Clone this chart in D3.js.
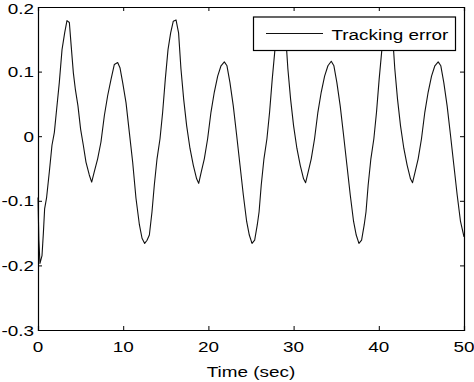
<!DOCTYPE html>
<html>
<head>
<meta charset="utf-8">
<script src="https://cdn.jsdelivr.net/npm/d3@7"></script>
<style>
  html, body { margin: 0; padding: 0; background: #fff; }
  svg { display: block; }
  text { font-family: "Liberation Sans", Arial, Helvetica, sans-serif; fill: #000; }
</style>
</head>
<body>
<svg id="chart" width="474" height="382"></svg>
<script>
// ---- Data ----
const timeSec = [
  0, 0.1, 0.23, 0.47, 0.63, 0.78, 1.0, 1.33, 1.64, 1.92, 2.19, 2.5, 2.82, 3.13, 3.4, 3.68,
  3.9, 4.15, 4.38, 4.69, 5.0, 5.32, 5.63, 6.02, 6.3, 6.61, 7.0, 7.39, 7.79, 8.18, 8.57,
  8.96, 9.35, 9.62, 9.94, 10.33, 10.72, 11.11, 11.5, 11.9, 12.21, 12.52, 12.8,
  13.07, 13.38, 13.65, 13.97, 14.32, 14.63, 14.94, 15.26, 15.57, 15.88, 16.2, 16.5, 16.78,
  17.1, 17.45, 17.84, 18.23, 18.62, 18.86, 19.17, 19.52, 19.91, 20.3, 20.69, 21.09, 21.48,
  21.87, 22.18, 22.53, 22.92, 23.32, 23.71, 24.1, 24.49, 24.8, 25.12, 25.43, 25.74,
  25.95, 26.2, 26.52, 26.87, 27.18, 27.49, 27.81, 28.12, 28.43, 28.75, 29.05, 29.33, 29.65,
  30.0, 30.39, 30.78, 31.17, 31.41, 31.72, 32.07, 32.46, 32.85, 33.24, 33.64, 34.03, 34.42,
  34.73, 35.08, 35.47, 35.87, 36.26, 36.65, 37.04, 37.35, 37.67, 37.98, 38.29,
  38.5, 38.75, 39.07, 39.42, 39.73, 40.04, 40.36, 40.67, 40.98, 41.3, 41.6, 41.88, 42.2,
  42.55, 42.94, 43.33, 43.72, 43.96, 44.27, 44.62, 45.01, 45.4, 45.79, 46.19, 46.58, 46.97,
  47.28, 47.63, 48.02, 48.42, 48.81, 49.2, 49.59, 49.9, 50.0
];
const trackingError = [
  -0.095, -0.16, -0.197, -0.185, -0.15, -0.112, -0.096, -0.055, -0.014, 0.006, 0.042, 0.083, 0.134, 0.16, 0.179, 0.176,
  0.139, 0.098, 0.073, 0.047, 0.011, -0.014, -0.04, -0.06, -0.071, -0.055, -0.035, -0.009, 0.032, 0.063, 0.088,
  0.111, 0.114, 0.106, 0.083, 0.052, 0.006, -0.04, -0.096, -0.137, -0.158, -0.166, -0.161,
  -0.153, -0.117, -0.076, -0.035, -0.004, 0.037, 0.088, 0.134, 0.16, 0.178, 0.18, 0.16, 0.104,
  0.057, 0.016, -0.019, -0.045, -0.066, -0.073, -0.055, -0.035, -0.004, 0.037, 0.068, 0.093, 0.109,
  0.115, 0.109, 0.083, 0.047, 0.001, -0.045, -0.091, -0.132, -0.153, -0.166, -0.161, -0.137,
  -0.117, -0.076, -0.035, -0.004, 0.037, 0.088, 0.134, 0.162, 0.18, 0.183, 0.16, 0.104, 0.057,
  0.016, -0.019, -0.045, -0.066, -0.072, -0.055, -0.035, -0.004, 0.037, 0.068, 0.093, 0.109, 0.116,
  0.109, 0.083, 0.047, 0.001, -0.045, -0.091, -0.132, -0.153, -0.166, -0.161, -0.137,
  -0.117, -0.076, -0.035, -0.004, 0.037, 0.088, 0.134, 0.16, 0.178, 0.181, 0.16, 0.104, 0.057,
  0.016, -0.019, -0.045, -0.066, -0.072, -0.055, -0.035, -0.004, 0.037, 0.068, 0.093, 0.109, 0.115,
  0.109, 0.083, 0.047, 0.001, -0.045, -0.091, -0.132, -0.150, -0.156
];
const xTicks = [0, 10, 20, 30, 40, 50];
const yTicks = [-0.3, -0.2, -0.1, 0, 0.1, 0.2];
const yTickLabels = ["-0.3", "-0.2", "-0.1", "0", "0.1", "0.2"];
const xLabel = "Time (sec)";
const seriesName = "Tracking error";

// ---- Layout ----
const L = 38, R = 464, T = 7, B = 330;
const FS = 15.5, SX = 1.22, TICK = 4;

const svg = d3.select("#chart");
const x = d3.scaleLinear().domain([0, 50]).range([L, R]);
const y = d3.scaleLinear().domain([-0.3, 0.2]).range([B, T]);

// helper for horizontally stretched text
function stretchedText(g, tx, ty, str, anchor) {
  return g.append("text")
    .attr("transform", `translate(${tx},${ty}) scale(${SX},1)`)
    .attr("text-anchor", anchor)
    .attr("font-size", FS)
    .text(str);
}

// ---- Curve ----
const pts = timeSec.map((t, i) => [t, trackingError[i]]);
svg.append("path")
  .datum(pts)
  .attr("fill", "none")
  .attr("stroke", "#111")
  .attr("stroke-width", 1.1)
  .attr("stroke-linejoin", "round")
  .attr("d", d3.line().x(d => x(d[0])).y(d => y(d[1])));

// ---- Axes (box with inward ticks on all sides) ----
const axG = svg.append("g");
const bottomAxis = d3.axisBottom(x).tickValues(xTicks).tickSize(-TICK).tickFormat("");
const topAxis = d3.axisTop(x).tickValues(xTicks).tickSize(-TICK).tickFormat("");
const leftAxis = d3.axisLeft(y).tickValues(yTicks).tickSize(-TICK).tickFormat("");
const rightAxis = d3.axisRight(y).tickValues(yTicks).tickSize(-TICK).tickFormat("");
axG.append("g").attr("transform", `translate(0,${B})`).call(bottomAxis);
axG.append("g").attr("transform", `translate(0,${T})`).call(topAxis);
axG.append("g").attr("transform", `translate(${L},0)`).call(leftAxis);
axG.append("g").attr("transform", `translate(${R},0)`).call(rightAxis);
axG.selectAll(".domain").attr("stroke", "#000").attr("stroke-width", 1.2);
axG.selectAll(".tick line").attr("stroke", "#000").attr("stroke-width", 1);

// tick labels
const lblG = svg.append("g");
xTicks.forEach(v => stretchedText(lblG, x(v), 351.5, String(v), "middle"));
yTicks.forEach((v, i) => {
  const yy = Math.max(y(v) + 5.5, 14);  // keep the top label inside the window
  stretchedText(lblG, 34, yy, yTickLabels[i], "end");
});

// x label
stretchedText(lblG, (L + R) / 2, 377, xLabel, "middle");

// ---- Legend ----
const lg = svg.append("g");
lg.append("rect")
  .attr("x", 253.5).attr("y", 17).attr("width", 202).attr("height", 33.5)
  .attr("fill", "#fff").attr("stroke", "#000").attr("stroke-width", 1.2);
lg.append("line")
  .attr("x1", 266).attr("x2", 323).attr("y1", 33.5).attr("y2", 33.5)
  .attr("stroke", "#111").attr("stroke-width", 1.1);
stretchedText(lg, 331.5, 39.5, seriesName, "start");
</script>
</body>
</html>
